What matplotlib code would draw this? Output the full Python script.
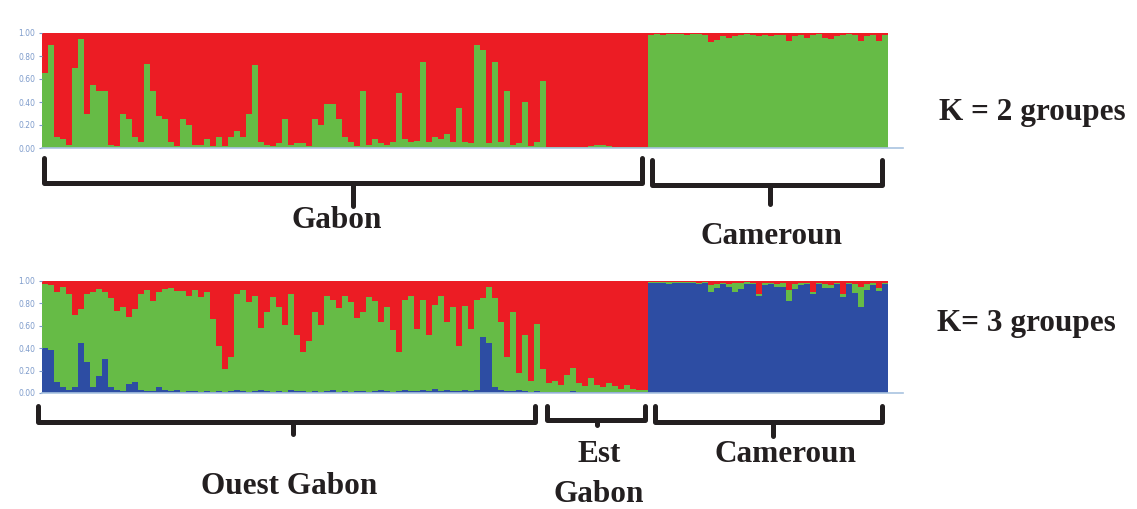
import matplotlib.pyplot as plt
import numpy as np

# K = 2 : part verte (bas) de chaque individu, le reste est rouge
gabon_k2_green = [0.65, 0.90, 0.10, 0.08, 0.03, 0.70, 0.95, 0.30, 0.55, 0.50,
                  0.50, 0.03, 0.02, 0.30, 0.25, 0.10, 0.05, 0.73, 0.50, 0.28,
                  0.25, 0.05, 0.02, 0.25, 0.20, 0.03, 0.03, 0.08, 0.02, 0.10,
                  0.02, 0.10, 0.15, 0.10, 0.30, 0.72, 0.05, 0.03, 0.02, 0.04,
                  0.25, 0.03, 0.04, 0.04, 0.02, 0.25, 0.20, 0.38, 0.38, 0.25,
                  0.10, 0.05, 0.02, 0.50, 0.03, 0.08, 0.04, 0.03, 0.05, 0.48,
                  0.08, 0.05, 0.06, 0.75, 0.05, 0.10, 0.08, 0.12, 0.05, 0.35,
                  0.05, 0.04, 0.90, 0.85, 0.04, 0.75, 0.05, 0.50, 0.03, 0.04,
                  0.40, 0.02, 0.05, 0.58, 0.01, 0.01, 0.01, 0.01, 0.01, 0.01,
                  0.01, 0.02, 0.03, 0.03, 0.02, 0.01, 0.01, 0.01, 0.01, 0.01,
                  0.01]
cam_k2_red = [0.02, 0.01, 0.02, 0.01, 0.01, 0.01, 0.02, 0.01, 0.01, 0.02,
              0.08, 0.06, 0.03, 0.04, 0.03, 0.02, 0.01, 0.02, 0.03, 0.02,
              0.03, 0.02, 0.02, 0.07, 0.03, 0.02, 0.04, 0.02, 0.01, 0.04,
              0.05, 0.03, 0.02, 0.01, 0.02, 0.07, 0.03, 0.02, 0.07, 0.02]

# K = 3 : bleu (bas), vert (milieu), rouge (haut)
ouest_blue = [0.40, 0.38, 0.10, 0.05, 0.03, 0.05, 0.45, 0.28, 0.05, 0.15,
              0.30, 0.05, 0.03, 0.02, 0.08, 0.10, 0.03, 0.02, 0.02, 0.05,
              0.03, 0.02, 0.03, 0.01, 0.02, 0.02, 0.01, 0.02, 0.01, 0.02,
              0.01, 0.02, 0.03, 0.02, 0.01, 0.02, 0.03, 0.02, 0.01, 0.02,
              0.01, 0.03, 0.02, 0.02, 0.01, 0.02, 0.01, 0.02, 0.03, 0.01,
              0.02, 0.01, 0.02, 0.02, 0.01, 0.02, 0.03, 0.02, 0.01, 0.02,
              0.03, 0.02, 0.02, 0.03, 0.02, 0.04, 0.02, 0.03, 0.02, 0.02,
              0.03, 0.02, 0.03, 0.50, 0.45, 0.05, 0.03, 0.02, 0.02, 0.03,
              0.02, 0.01, 0.02, 0.01]
ouest_green = [0.57, 0.58, 0.80, 0.90, 0.85, 0.65, 0.30, 0.60, 0.85, 0.78,
               0.60, 0.80, 0.70, 0.75, 0.60, 0.65, 0.85, 0.90, 0.80, 0.85,
               0.90, 0.92, 0.88, 0.90, 0.85, 0.90, 0.85, 0.88, 0.65, 0.40,
               0.20, 0.30, 0.85, 0.90, 0.80, 0.85, 0.55, 0.70, 0.85, 0.75,
               0.60, 0.85, 0.50, 0.35, 0.45, 0.70, 0.60, 0.85, 0.80, 0.75,
               0.85, 0.80, 0.65, 0.70, 0.85, 0.80, 0.60, 0.75, 0.55, 0.35,
               0.80, 0.85, 0.55, 0.80, 0.50, 0.75, 0.85, 0.60, 0.75, 0.40,
               0.75, 0.55, 0.80, 0.35, 0.50, 0.80, 0.60, 0.30, 0.70, 0.15,
               0.50, 0.10, 0.60, 0.20]
est_blue = [0.01, 0.01, 0.01, 0.01, 0.02, 0.01, 0.01, 0.01, 0.01, 0.01,
            0.01, 0.01, 0.01, 0.01, 0.01, 0.01, 0.01]
est_green = [0.08, 0.10, 0.06, 0.15, 0.20, 0.08, 0.05, 0.12, 0.06, 0.04,
             0.08, 0.05, 0.03, 0.06, 0.03, 0.02, 0.02]
cam_k3_green = [0.01, 0.01, 0.01, 0.02, 0.01, 0.01, 0.01, 0.01, 0.01, 0.01,
                0.06, 0.03, 0.01, 0.02, 0.08, 0.05, 0.02, 0.01, 0.01, 0.02,
                0.01, 0.02, 0.03, 0.10, 0.04, 0.02, 0.01, 0.02, 0.01, 0.03,
                0.02, 0.01, 0.02, 0.01, 0.08, 0.18, 0.05, 0.02, 0.03, 0.01]
cam_k3_red = [0.01, 0.01, 0.01, 0.01, 0.01, 0.01, 0.01, 0.01, 0.02, 0.01,
              0.04, 0.03, 0.02, 0.03, 0.02, 0.02, 0.01, 0.02, 0.12, 0.02,
              0.02, 0.03, 0.02, 0.08, 0.03, 0.02, 0.02, 0.10, 0.02, 0.03,
              0.04, 0.02, 0.12, 0.02, 0.03, 0.05, 0.03, 0.02, 0.06, 0.02]

ticks = [0.0, 0.2, 0.4, 0.6, 0.8, 1.0]
RED, GREEN, BLUE = '#ec1c24', '#66bb46', '#2d4da3'
TICKC = '#7d9bcb'
INK = '#231f20'

W, H = 1137, 509
fig = plt.figure(figsize=(W / 100, H / 100), dpi=100)


def px_axes(left, right, top, bottom):
    return fig.add_axes([left / W, 1 - bottom / H, (right - left) / W, (bottom - top) / H])


def style(ax, n):
    ax.set_xlim(0, n + 2.5)
    ax.set_ylim(0, 1)
    ax.set_yticks(ticks)
    ax.set_yticklabels(['%.2f' % t for t in ticks], fontsize=5.5, color=TICKC)
    ax.tick_params(axis='y', length=2, color=TICKC, pad=3)
    ax.set_xticks([])
    for s in ['top', 'right', 'left']:
        ax.spines[s].set_visible(False)
    ax.spines['bottom'].set_color('#a9c3e0')
    ax.spines['bottom'].set_linewidth(1.2)


# ---- K = 2 ----
ax1 = px_axes(42, 903, 33, 148)
g2 = np.array(gabon_k2_green + [1 - r for r in cam_k2_red])
x2 = np.arange(len(g2))
ax1.bar(x2, g2, width=1, align='edge', color=GREEN, linewidth=0)
ax1.bar(x2, 1 - g2, bottom=g2, width=1, align='edge', color=RED, linewidth=0)
style(ax1, len(g2))

# ---- K = 3 ----
ax2 = px_axes(42, 903, 281, 393)
b3 = np.array(ouest_blue + est_blue + [1 - g - r for g, r in zip(cam_k3_green, cam_k3_red)])
g3 = np.array(ouest_green + est_green + cam_k3_green)
r3 = 1 - b3 - g3
x3 = np.arange(len(b3))
ax2.bar(x3, b3, width=1, align='edge', color=BLUE, linewidth=0)
ax2.bar(x3, g3, bottom=b3, width=1, align='edge', color=GREEN, linewidth=0)
ax2.bar(x3, r3, bottom=b3 + g3, width=1, align='edge', color=RED, linewidth=0)
style(ax2, len(b3))

# ---- accolades et textes ----
ov = fig.add_axes([0, 0, 1, 1], facecolor='none')
ov.set_xlim(0, W)
ov.set_ylim(H, 0)
ov.axis('off')


def bracket(x0, x1, ytop, ybar, xm, ytip):
    kw = dict(color=INK, lw=3.6, solid_capstyle='round', solid_joinstyle='round')
    ov.plot([x0, x0, x1, x1], [ytop, ybar, ybar, ytop], **kw)
    ov.plot([xm, xm], [ybar, ytip], **kw)


bracket(44, 642, 158, 183, 353, 206)
bracket(652, 882, 160, 185, 770, 204)
bracket(38, 535, 406, 422, 293, 434)
bracket(547, 645, 406, 420, 597, 425)
bracket(655, 882, 406, 422, 773, 436)

tk = dict(family='Liberation Serif', fontweight='bold', fontsize=22.5, color=INK,
          ha='center', va='center')
ov.text(337, 221, 'Gabon', **tk)
ov.text(772, 236, 'Cameroun', **tk)
ov.text(289, 487, 'Ouest Gabon', **tk)
ov.text(599, 455, 'Est', **tk)
ov.text(599, 494, 'Gabon', **tk)
ov.text(786, 455, 'Cameroun', **tk)
ov.text(1032, 112, 'K = 2 groupes', **tk)
ov.text(1026, 324, 'K= 3 groupes', **tk)

fig.savefig('out.png', dpi=100)
